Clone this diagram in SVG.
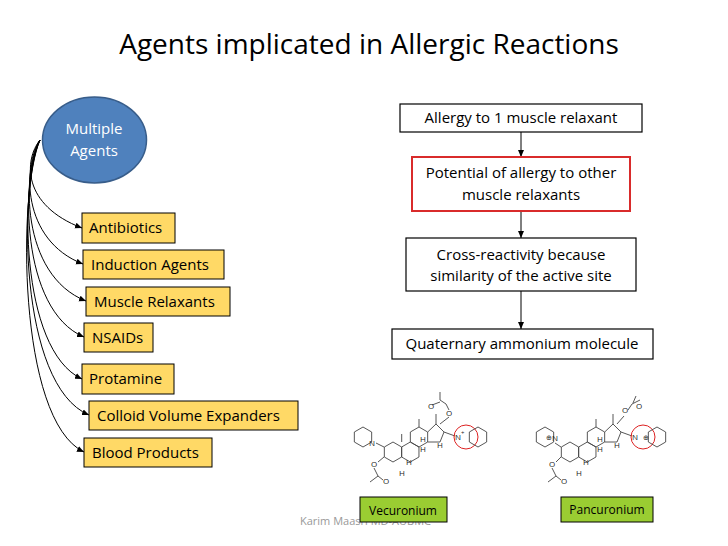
<svg xmlns="http://www.w3.org/2000/svg" xmlns:xlink="http://www.w3.org/1999/xlink" width="728" height="546" viewBox="0 0 728 546">
<style>
text{font-family:"Open Sans","Liberation Sans",sans-serif;fill:#000}
.y{fill:#ffd966;stroke:#000;stroke-width:1}
.w{fill:#fff;stroke:#000;stroke-width:1.2}
.g{fill:#9acd32;stroke:#000;stroke-width:1}
.c{fill:none;stroke:#000;stroke-width:1}
.t{font-size:15px}
.m{fill:none;stroke:#444;stroke-width:0.9}
.a{font-size:8px;fill:#222}
</style>
<defs>
<marker id="ah" markerWidth="8" markerHeight="8" refX="7" refY="4" orient="auto" markerUnits="userSpaceOnUse"><path d="M0,1 L7,4 L0,7 z" fill="#000"/></marker>
<polygon id="hx" points="0,-10 8.66,-5 8.66,5 0,10 -8.66,5 -8.66,-5"/>
</defs>
<rect width="728" height="546" fill="#fff"/>
<text x="369" y="54" text-anchor="middle" style="font-size:28px">Agents implicated in Allergic Reactions</text>

<g id="connectors">
<path class="c" marker-end="url(#ah)" d="M40,140 C24,160 22,205 82,228"/>
<path class="c" marker-end="url(#ah)" d="M40,140 C23,165 21,240 83,264"/>
<path class="c" marker-end="url(#ah)" d="M40,140 C22,170 20,275 86,301"/>
<path class="c" marker-end="url(#ah)" d="M40,140 C21,175 20,310 84,337"/>
<path class="c" marker-end="url(#ah)" d="M40,140 C20,180 19,350 82,379"/>
<path class="c" marker-end="url(#ah)" d="M40,140 C19,185 18,385 89,415"/>
<path class="c" marker-end="url(#ah)" d="M40,140 C18,190 17,420 84,452"/>
<path class="c" marker-end="url(#ah)" d="M521,132 V157"/>
<path class="c" marker-end="url(#ah)" d="M521,211 V238"/>
<path class="c" marker-end="url(#ah)" d="M521,291 V329"/>
</g>

<g id="multiple"><ellipse cx="94.5" cy="140" rx="52" ry="43" fill="#4f81bd" stroke="#385d8a" stroke-width="1.5"/>
<text x="94" y="134" text-anchor="middle" class="t" style="fill:#fff">Multiple</text><text x="94" y="156" text-anchor="middle" class="t" style="fill:#fff">Agents</text></g>
<g id="antibiotics"><rect class="y" x="82" y="213" width="93" height="30"/><text x="89" y="233" class="t">Antibiotics</text></g>
<g id="induction"><rect class="y" x="83" y="250" width="141" height="29"/><text x="91" y="270" class="t">Induction Agents</text></g>
<g id="muscle"><rect class="y" x="86" y="287" width="144" height="29"/><text x="94" y="307" class="t">Muscle Relaxants</text></g>
<g id="nsaids"><rect class="y" x="84" y="323" width="69" height="29"/><text x="92" y="343" class="t">NSAIDs</text></g>
<g id="protamine"><rect class="y" x="82" y="364" width="92" height="30"/><text x="89" y="384" class="t">Protamine</text></g>
<g id="colloid"><rect class="y" x="89" y="401" width="209" height="29"/><text x="97" y="421" class="t">Colloid Volume Expanders</text></g>
<g id="blood"><rect class="y" x="84" y="438" width="128" height="29"/><text x="92" y="458" class="t">Blood Products</text></g>

<g id="allergy1"><rect class="w" x="400" y="104" width="242" height="28"/><text x="521" y="123" text-anchor="middle" class="t">Allergy to 1 muscle relaxant</text></g>
<g id="potential"><rect x="412" y="157" width="218" height="54" fill="#fff" stroke="#d92b2b" stroke-width="2"/><text x="521" y="178" text-anchor="middle" class="t">Potential of allergy to other</text><text x="521" y="200" text-anchor="middle" class="t">muscle relaxants</text></g>
<g id="cross"><rect class="w" x="406" y="238" width="230" height="53"/><text x="521" y="260" text-anchor="middle" class="t">Cross-reactivity because</text><text x="521" y="281" text-anchor="middle" class="t">similarity of the active site</text></g>
<g id="quat"><rect class="w" x="392" y="329" width="261" height="30"/><text x="522" y="349" text-anchor="middle" class="t">Quaternary ammonium molecule</text></g>

<text x="300" y="525" style="font-size:11px;fill:#999">Karim Maasri MD-AUBMC</text>

<g id="vecuronium-structure">
<use xlink:href="#hx" x="363" y="437" class="m"/>
<use xlink:href="#hx" x="393" y="452" class="m"/>
<use xlink:href="#hx" x="410.3" y="452" class="m"/>
<use xlink:href="#hx" x="419" y="437" class="m"/>
<polyline class="m" points="427.7,432 436,424 444,432 440,442 427.7,442"/>
<line class="m" x1="444" y1="432" x2="455" y2="436"/>
<line class="m" x1="436" y1="424" x2="436" y2="414"/>
<line class="m" x1="440" y1="424" x2="449" y2="417"/>
<polyline class="m" points="449,410 446,404 440,400 440,392"/>
<line class="m" x1="440" y1="402" x2="432" y2="405"/>
<text x="428" y="409" class="a">O</text><text x="446" y="416" class="a">O</text>
<line class="m" x1="419" y1="427" x2="419" y2="419"/>
<line class="m" x1="401.7" y1="442" x2="401.7" y2="434"/>
<text x="455" y="440" class="a">N</text><text x="461" y="435" class="a" style="font-size:6px">+</text>
<circle cx="466" cy="437" r="12" fill="none" stroke="#d22" stroke-width="1"/>
<use xlink:href="#hx" x="478" y="437" class="m"/>
<text x="369" y="446" class="a">N</text>
<line class="m" x1="376" y1="443" x2="384" y2="447"/>
<line class="m" x1="384" y1="457" x2="378" y2="462"/>
<text x="371" y="467" class="a">O</text>
<polyline class="m" points="374,468 378,476 370,482"/>
<line class="m" x1="378" y1="476" x2="383" y2="480"/>
<text x="383" y="484" class="a">O</text>
<text x="406" y="465" class="a">H</text><text x="420" y="442" class="a">H</text><text x="437" y="448" class="a">H</text><text x="399" y="476" class="a">H</text><text x="420" y="452" class="a">H</text>
</g>

<g id="pancuronium-structure">
<use xlink:href="#hx" x="545" y="437" class="m"/>
<use xlink:href="#hx" x="570" y="452" class="m"/>
<use xlink:href="#hx" x="587.3" y="452" class="m"/>
<use xlink:href="#hx" x="596" y="437" class="m"/>
<polyline class="m" points="604.7,432 613,424 621,432 617,442 604.7,442"/>
<line class="m" x1="621" y1="432" x2="632" y2="436"/>
<line class="m" x1="613" y1="424" x2="613" y2="414"/>
<line class="m" x1="617" y1="424" x2="624" y2="416"/>
<polyline class="m" points="628,410 632,404 640,400"/>
<line class="m" x1="633" y1="403" x2="636" y2="396"/>
<text x="622" y="413" class="a">O</text><text x="636" y="409" class="a">O</text>
<line class="m" x1="596" y1="427" x2="596" y2="419"/>
<text x="632" y="440" class="a">N</text>
<circle cx="643" cy="437" r="12" fill="none" stroke="#d22" stroke-width="1"/>
<text x="643" y="440" class="a" style="font-size:7px">⊕</text>
<use xlink:href="#hx" x="657" y="437" class="m"/>
<text x="546" y="440" class="a" style="font-size:7px">⊕</text><text x="552" y="441" class="a">N</text>
<line class="m" x1="555" y1="443" x2="561" y2="447"/>
<line class="m" x1="561" y1="457" x2="556" y2="462"/>
<text x="549" y="467" class="a">O</text>
<polyline class="m" points="552,468 556,476 548,482"/>
<line class="m" x1="556" y1="476" x2="561" y2="480"/>
<text x="561" y="484" class="a">O</text>
<text x="583" y="465" class="a">H</text><text x="597" y="442" class="a">H</text><text x="614" y="448" class="a">H</text><text x="576" y="476" class="a">H</text><text x="597" y="452" class="a">H</text>
</g>

<g id="vecuronium"><rect class="g" x="360" y="497" width="87" height="25"/><text x="403" y="515" text-anchor="middle" style="font-size:12px">Vecuronium</text></g>
<g id="pancuronium"><rect class="g" x="561" y="497" width="92" height="25"/><text x="607" y="514" text-anchor="middle" style="font-size:12px">Pancuronium</text></g>
</svg>
